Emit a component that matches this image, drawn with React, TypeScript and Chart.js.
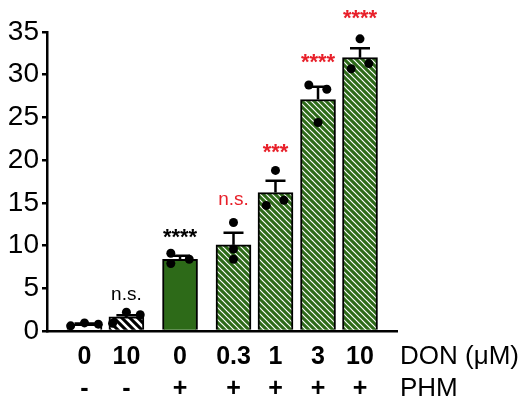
import React, { useEffect, useRef } from "react";
import { Chart, registerables } from "chart.js";

Chart.register(...registerables);

// ---- data ----
const donLabels = ["0", "10", "0", "0.3", "1", "3", "10"];
const phmLabels = ["-", "-", "+", "+", "+", "+", "+"];
const means = [0.78, 1.65, 8.4, 10.1, 16.2, 27.1, 32.0];
const sem = [0.1, 0.2, 0.4, 1.4, 1.4, 1.5, 1.1];
const rep1 = [0.6, 0.9, 9.1, 12.7, 14.7, 28.8, 30.7];
const rep2 = [0.95, 2.2, 7.9, 9.6, 18.8, 24.4, 34.2];
const rep3 = [0.8, 1.9, 8.4, 8.4, 15.3, 28.3, 31.3];
const sigText = ["", "n.s.", "****", "n.s.", "***", "****", "****"];
const sigRed = [false, false, false, true, true, true, true];
const sigLevel = [0, 4.2, 11.5, 15.3, 21.4, 32.0, 37.1];
const yTicks = [0, 5, 10, 15, 20, 25, 30, 35];

// ---- layout (x slots on a linear axis, dot jitter within bars) ----
const xSlots = [0, 1, 2.28, 3.556, 4.558, 5.573, 6.575];
const jit1 = [-0.33, -0.33, -0.22, 0, -0.22, -0.22, -0.21];
const jit2 = [0, 0, -0.22, 0, 0, 0, 0];
const jit3 = [0.33, 0.33, 0.22, 0, 0.2, 0.21, 0.21];

const GREEN = "#2d6a18";
const RED = "#e8202a";
const FONT = "'Liberation Sans', Arial, Helvetica, sans-serif";

function stripes(bg: string, fg: string, p: number, lw: number) {
  const c = document.createElement("canvas");
  c.width = p;
  c.height = p;
  const g = c.getContext("2d")!;
  g.fillStyle = bg;
  g.fillRect(0, 0, p, p);
  g.strokeStyle = fg;
  g.lineWidth = lw;
  g.beginPath();
  g.moveTo(-1, -1);
  g.lineTo(p + 1, p + 1);
  g.moveTo(-p - 1, -1);
  g.lineTo(1, p + 1);
  g.moveTo(p - 1, -1);
  g.lineTo(2 * p + 1, p + 1);
  g.stroke();
  return g.createPattern(c, "repeat")!;
}

export default function App() {
  const ref = useRef<HTMLCanvasElement>(null);

  useEffect(() => {
    const greenHatch = stripes(GREEN, "#ffffff", 6, 1.2);
    const blackHatch = stripes("#000000", "#ffffff", 8, 2.6);
    const fills = ["#ffffff", blackHatch, GREEN, greenHatch, greenHatch, greenHatch, greenHatch];

    const points: { x: number; y: number }[] = [];
    xSlots.forEach((s, i) => {
      points.push({ x: s + jit1[i], y: rep1[i] });
      points.push({ x: s + jit2[i], y: rep2[i] });
      points.push({ x: s + jit3[i], y: rep3[i] });
    });

    const errorBars = {
      id: "errorBars",
      afterDatasetDraw(chart: any, args: any) {
        if (args.index !== 0) return;
        const { ctx, scales } = chart;
        ctx.save();
        ctx.strokeStyle = "#000";
        ctx.lineWidth = 2.5;
        xSlots.forEach((s, i) => {
          const x = scales.x.getPixelForValue(s);
          const y0 = scales.y.getPixelForValue(means[i]);
          const y1 = scales.y.getPixelForValue(means[i] + sem[i]);
          ctx.beginPath();
          ctx.moveTo(x, y0);
          ctx.lineTo(x, y1);
          ctx.moveTo(x - 10, y1);
          ctx.lineTo(x + 10, y1);
          ctx.stroke();
        });
        ctx.restore();
      },
    };

    const labels = {
      id: "labels",
      afterDraw(chart: any) {
        const { ctx, scales, chartArea } = chart;
        ctx.save();
        ctx.fillStyle = "#000";
        ctx.textAlign = "center";
        ctx.textBaseline = "middle";
        ctx.font = `bold 25px ${FONT}`;
        xSlots.forEach((s, i) => {
          const x = scales.x.getPixelForValue(s);
          ctx.fillText(donLabels[i], x, chartArea.bottom + 26);
          ctx.fillText(phmLabels[i], x, chartArea.bottom + 58);
        });
        ctx.textAlign = "left";
        ctx.font = `26px ${FONT}`;
        ctx.fillText("DON (μM)", chartArea.right + 3, chartArea.bottom + 26);
        ctx.fillText("PHM", chartArea.right + 3, chartArea.bottom + 58);

        // significance marks
        ctx.textAlign = "center";
        ctx.textBaseline = "alphabetic";
        xSlots.forEach((s, i) => {
          const t = sigText[i];
          if (!t) return;
          const x = scales.x.getPixelForValue(s);
          const y = scales.y.getPixelForValue(sigLevel[i]);
          ctx.fillStyle = sigRed[i] ? RED : "#000";
          if (t.startsWith("*")) {
            ctx.font = `bold 22px ${FONT}`;
            ctx.fillText(t, x, y + 11);
          } else {
            ctx.font = `19px ${FONT}`;
            ctx.fillText(t, x, y + 5);
          }
        });
        ctx.restore();
      },
    };

    const chart = new Chart(ref.current!, {
      type: "bar",
      data: {
        datasets: [
          {
            type: "bar",
            data: xSlots.map((s, i) => ({ x: s, y: means[i] })),
            backgroundColor: fills as any,
            borderColor: "#000",
            borderWidth: 2,
            barThickness: 35,
            order: 2,
          } as any,
          {
            type: "scatter",
            data: points,
            backgroundColor: "#000",
            borderColor: "#000",
            pointRadius: 4.5,
            borderWidth: 0,
            order: 1,
          } as any,
        ],
      },
      options: {
        animation: false,
        responsive: true,
        maintainAspectRatio: false,
        layout: { padding: { left: 0, right: 133, top: 32, bottom: 0 } },
        plugins: { legend: { display: false }, tooltip: { enabled: false } },
        scales: {
          x: {
            type: "linear",
            offset: false,
            min: -0.895,
            max: 7.458,
            grid: { display: false },
            border: { display: true, color: "#000", width: 2.5 },
            ticks: { display: false },
            afterFit(scale: any) {
              scale.height = 70;
            },
          },
          y: {
            min: 0,
            max: 35,
            afterBuildTicks(scale: any) {
              scale.ticks = yTicks.map((v) => ({ value: v }));
            },
            grid: { drawOnChartArea: false, tickLength: 5, color: "#000", lineWidth: 2.5 },
            border: { display: true, color: "#000", width: 2.5 },
            ticks: {
              color: "#000",
              padding: 3,
              font: { family: FONT, size: 28 },
            },
            afterFit(scale: any) {
              scale.width = 47;
            },
          },
        },
      } as any,
      plugins: [errorBars, labels],
    });
    return () => chart.destroy();
  }, []);

  return (
    <div style={{ position: "absolute", left: 0, top: 0, width: 530, height: 401, background: "#fff" }}>
      <canvas ref={ref} />
    </div>
  );
}
